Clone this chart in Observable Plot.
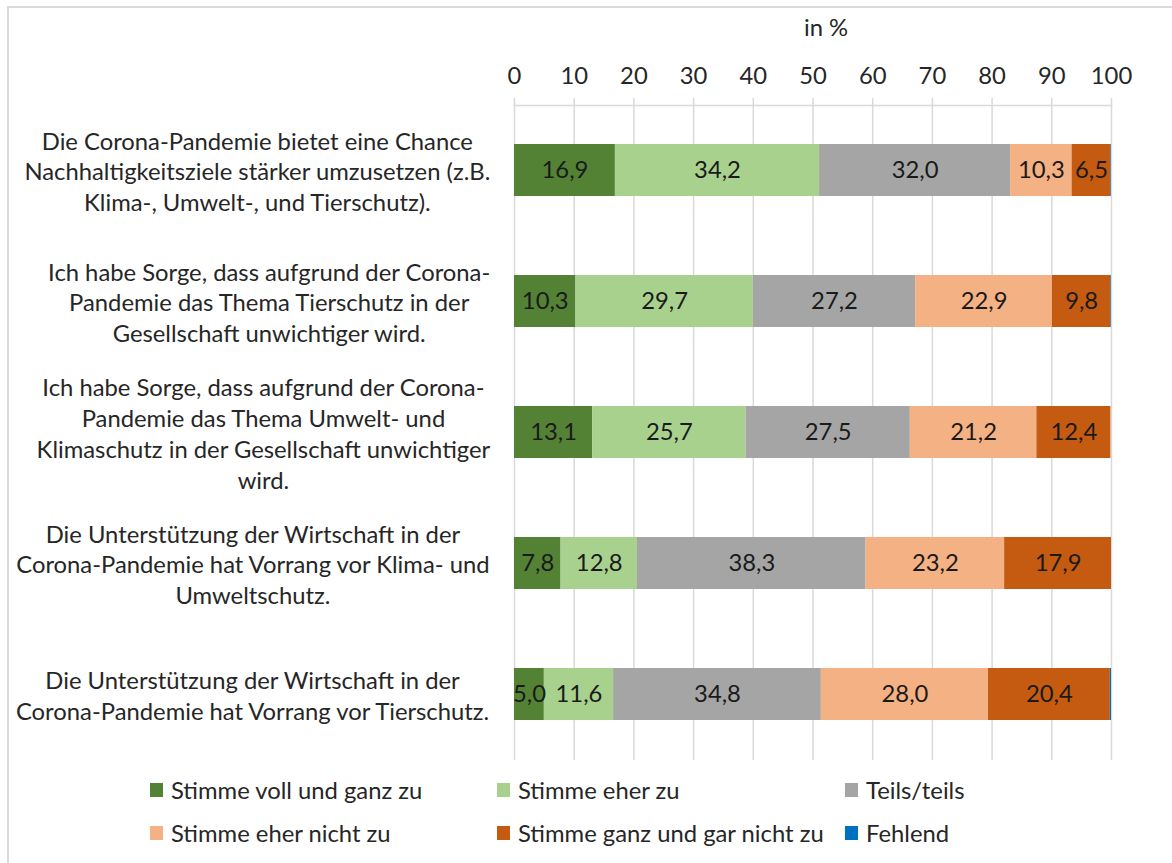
<!DOCTYPE html>
<html><head><meta charset="utf-8">
<script src="https://cdn.jsdelivr.net/npm/d3@7"></script>
<script src="https://cdn.jsdelivr.net/npm/@observablehq/plot@0.6"></script>
<style>
body{margin:0;background:#fff;}
#wrap{position:relative;width:1172px;height:863px;overflow:hidden;font-family:Lato,"Open Sans",sans-serif;color:#262626;}
#wrap svg{position:absolute;left:0;top:0;}
.border{position:absolute;left:7px;top:6px;width:1200px;height:900px;border-left:2px solid #D9D9D9;border-top:2px solid #D9D9D9;}
.title{position:absolute;top:13px;left:826px;transform:translateX(-50%);white-space:nowrap;}
.leg{position:absolute;white-space:nowrap;display:flex;align-items:center;}
.sw{display:inline-block;width:13px;height:14px;margin-right:8px;}
</style></head><body><div id="wrap"><div class="border"></div></div>
<script>
// Data
const questions = [
  "Die Corona-Pandemie bietet eine Chance\nNachhaltigkeitsziele stärker umzusetzen (z.B.\nKlima-, Umwelt-, und Tierschutz).",
  "Ich habe Sorge, dass aufgrund der Corona-\nPandemie das Thema Tierschutz in der\nGesellschaft unwichtiger wird.",
  "Ich habe Sorge, dass aufgrund der Corona-\nPandemie das Thema Umwelt- und\nKlimaschutz in der Gesellschaft unwichtiger\nwird.",
  "Die Unterstützung der Wirtschaft in der\nCorona-Pandemie hat Vorrang vor Klima- und\nUmweltschutz.",
  "Die Unterstützung der Wirtschaft in der\nCorona-Pandemie hat Vorrang vor Tierschutz."
];
const categories = ["Stimme voll und ganz zu", "Stimme eher zu", "Teils/teils", "Stimme eher nicht zu", "Stimme ganz und gar nicht zu", "Fehlend"];
const colors = ["#548235", "#A9D18E", "#A5A5A5", "#F4B183", "#C55A11", "#0070C0"];
const vollUndGanz = [16.9, 10.3, 13.1, 7.8, 5.0];
const eherZu = [34.2, 29.7, 25.7, 12.8, 11.6];
const teilsTeils = [32.0, 27.2, 27.5, 38.3, 34.8];
const eherNicht = [10.3, 22.9, 21.2, 23.2, 28.0];
const garNicht = [6.5, 9.8, 12.4, 17.9, 20.4];
const fehlend = [0.1, 0.1, 0.0, 0.0, 0.2];
const xTicks = [0, 10, 20, 30, 40, 50, 60, 70, 80, 90, 100];
const axisTitle = "in %";
const legendOrder = [
  ["Stimme voll und ganz zu", "Stimme eher zu", "Teils/teils"],
  ["Stimme eher nicht zu", "Stimme ganz und gar nicht zu", "Fehlend"]
];

const series = [vollUndGanz, eherZu, teilsTeils, eherNicht, garNicht, fehlend];
const data = [];
questions.forEach((q, i) => {
  categories.forEach((c, j) => data.push({q, cat: c, value: series[j][i]}));
});
const fmt = v => v.toFixed(1).replace(".", ",");

// font sizing via measurement
const fontFam = 'Lato, "Open Sans", sans-serif';
const cv = document.createElement("canvas").getContext("2d");
cv.font = `100px ${fontFam}`;
const refW = cv.measureText("Corona-Pandemie hat Vorrang vor Tierschutz.").width;
const fs = Math.round(476 / refW * 100 * 10) / 10;
cv.font = `${fs}px ${fontFam}`;

const marginLeft = 514;
const labelRight = 490;
const labelMarks = questions.map(q => {
  const w = Math.max(...q.split("\n").map(l => cv.measureText(l).width));
  const center = labelRight - w / 2;
  return Plot.text([q], {y: d => d, text: d => d, frameAnchor: "left", textAnchor: "middle",
    dx: center - marginLeft, lineHeight: 30.8 / fs, fill: "#262626"});
});

const plot = Plot.plot({
  width: 1172, height: 770,
  marginTop: 105, marginBottom: 10, marginLeft, marginRight: 61,
  style: {fontFamily: fontFam, fontSize: fs + "px", color: "#404040", background: "transparent"},
  x: {domain: [0, 100], axis: null},
  y: {domain: questions, paddingInner: 0.6, paddingOuter: 0.3, axis: null},
  color: {domain: categories, range: colors},
  marks: [
    Plot.gridX(xTicks, {stroke: "#D9D9D9", strokeOpacity: 1, strokeWidth: 1.5}),
    Plot.axisX(xTicks, {anchor: "top", tickSize: 8, tickPadding: 14, stroke: "#D9D9D9", strokeWidth: 1.5, label: null, tickFormat: d => String(d), fill: "#262626"}),
    Plot.frame({anchor: "top", stroke: "#D9D9D9", strokeWidth: 1.5}),
    Plot.barX(data, Plot.stackX({x: "value", y: "q", fill: "cat", order: categories})),
    Plot.text(data, Plot.stackX({x: "value", y: "q", z: "cat", order: categories,
      text: d => d.cat === "Fehlend" ? "" : fmt(d.value), fill: "#1a1a1a"})),
    ...labelMarks
  ]
});
const wrap = document.getElementById("wrap");
wrap.appendChild(plot);

const t = document.createElement("div");
t.className = "title"; t.textContent = axisTitle; t.style.fontSize = fs + "px";
wrap.appendChild(t);

const colX = [150, 497, 845];
const rowY = [790, 833];
legendOrder.forEach((row, r) => row.forEach((c, k) => {
  const d = document.createElement("div");
  d.className = "leg";
  d.style.left = colX[k] + "px";
  d.style.top = (rowY[r] - 15) + "px";
  d.style.height = "30px";
  d.style.fontSize = fs + "px";
  const s = document.createElement("span");
  s.className = "sw"; s.style.background = colors[categories.indexOf(c)];
  d.appendChild(s);
  d.appendChild(document.createTextNode(c));
  wrap.appendChild(d);
}));
</script></body></html>
